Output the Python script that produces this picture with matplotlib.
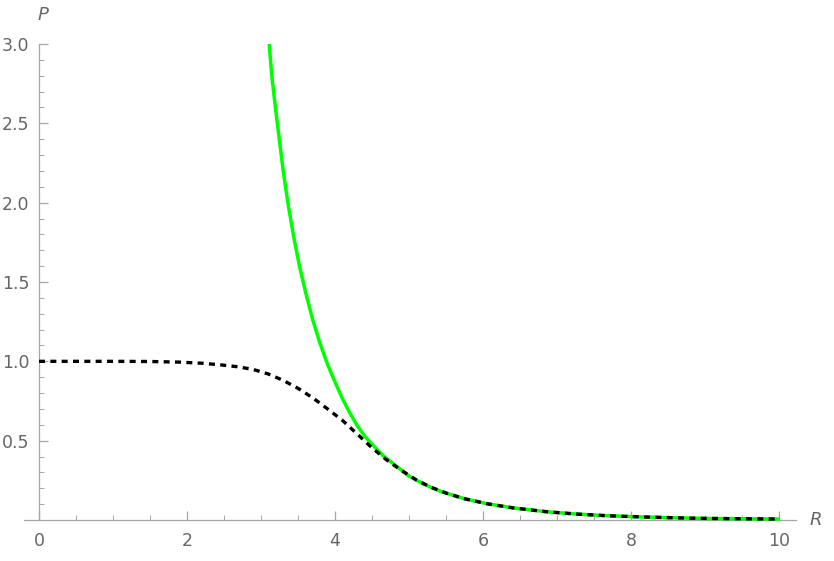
import matplotlib
matplotlib.use("Agg")
import matplotlib.pyplot as plt
from matplotlib.ticker import MultipleLocator, FixedLocator

# Data
black_R = [0.0, 1.0, 1.5, 1.9, 2.2, 2.45, 2.7, 2.9, 3.1, 3.3, 3.5, 3.7, 3.9, 4.1,
           4.3, 4.5, 4.7, 4.9, 5.1, 5.3, 5.5, 5.75, 6.05, 6.41, 6.86, 7.25, 7.67,
           8.1, 8.57, 9.0, 9.47, 10.0]
black_P = [1.0, 1.0, 0.999, 0.995, 0.988, 0.978, 0.965, 0.948, 0.920, 0.880, 0.830,
           0.770, 0.700, 0.628, 0.542, 0.455, 0.378, 0.312, 0.252, 0.206, 0.170,
           0.134, 0.103, 0.076, 0.052, 0.038, 0.027, 0.020, 0.014, 0.010, 0.008, 0.006]

green_R = [3.11, 3.15, 3.20, 3.25, 3.30, 3.37, 3.44, 3.52, 3.60, 3.70, 3.80, 3.90,
           4.00, 4.10, 4.20, 4.30, 4.40, 4.50, 4.65, 4.80, 5.00, 5.20, 5.44, 5.75,
           6.05, 6.41, 6.86, 7.25, 7.67, 8.10, 8.57, 9.00, 9.47, 10.0]
green_P = [3.00, 2.78, 2.58, 2.39, 2.20, 1.98, 1.79, 1.60, 1.44, 1.26, 1.11, 0.98,
           0.87, 0.765, 0.675, 0.595, 0.530, 0.478, 0.405, 0.350, 0.277, 0.226,
           0.178, 0.134, 0.103, 0.076, 0.052, 0.038, 0.027, 0.020, 0.014, 0.010,
           0.008, 0.006]

x_major = [0, 2, 4, 6, 8, 10]
x_labels = ["0", "2", "4", "6", "8", "10"]
y_major = [0.5, 1.0, 1.5, 2.0, 2.5, 3.0]
y_labels = ["0.5", "1.0", "1.5", "2.0", "2.5", "3.0"]

axis_col = "#a6a6a6"
text_col = "#666666"

fig = plt.figure(figsize=(8.34, 5.61), dpi=100)
ax = fig.add_axes([24.2 / 834, 1 - 520 / 561, (796 - 24.2) / 834, (520 - 44) / 561])
ax.set_xlim(-0.2, 10.23)
ax.set_ylim(0, 3.0)

ax.plot(green_R, green_P, color="#00ff00", lw=2.5, solid_capstyle="butt",
        solid_joinstyle="round", clip_on=False, zorder=3)
ax.plot(black_R, black_P, color="black", lw=2.4, linestyle=(0, (1.8, 1.6)),
        dash_capstyle="butt", clip_on=False, zorder=4)

for s in ["top", "right"]:
    ax.spines[s].set_visible(False)
ax.spines["left"].set_position(("data", 0))
ax.spines["left"].set_bounds(0, 3.0)
ax.spines["bottom"].set_position(("data", 0))
for s in ["left", "bottom"]:
    ax.spines[s].set_color(axis_col)
    ax.spines[s].set_linewidth(0.9)

ax.xaxis.set_major_locator(FixedLocator(x_major))
ax.set_xticklabels(x_labels)
ax.xaxis.set_minor_locator(MultipleLocator(0.5))
ax.yaxis.set_major_locator(FixedLocator(y_major))
ax.set_yticklabels(y_labels)
ax.yaxis.set_minor_locator(MultipleLocator(0.1))

ax.tick_params(which="both", direction="in", color=axis_col, labelcolor=text_col,
               labelsize=12.5)
ax.tick_params(which="major", length=6.5, width=0.9)
ax.tick_params(which="minor", length=3.6, width=0.7)
ax.tick_params(axis="x", which="major", pad=9)
ax.tick_params(axis="y", which="major", pad=7)

ax.text(0.05, 3.18, "P", style="italic", color=text_col, fontsize=13,
        ha="center", va="center", clip_on=False)
ax.text(10.5, 0.0, "R", style="italic", color=text_col, fontsize=13,
        ha="center", va="center", clip_on=False)

fig.savefig("out.png", dpi=100)
